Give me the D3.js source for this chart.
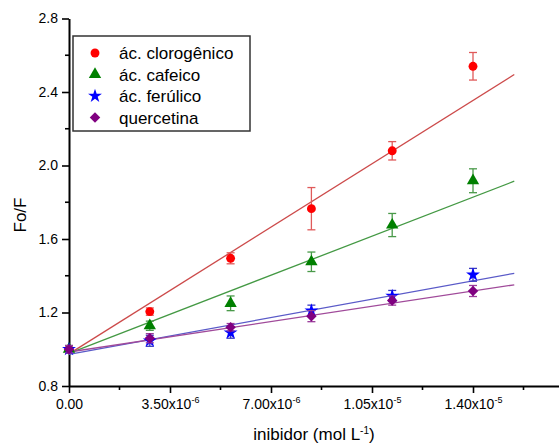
<!DOCTYPE html>
<html lang="pt">
<head>
<meta charset="utf-8">
<style>
  body { margin: 0; background: white; }
  svg { font-family: Arial, "Liberation Sans", sans-serif; background: white; }
  .axis path, .axis line { stroke: black; }
  .axis path { stroke-width: 2px; }
  .axis line { stroke-width: 1.6px; }
  .axis text { fill: black; font-size: 14px; }
  .fit { fill: none; stroke-width: 1.3px; }
</style>
</head>
<body>
<svg width="559" height="444"></svg>
<script src="https://d3js.org/d3.v7.min.js"></script>
<script>
// concentrations of inhibitor (mol L-1)
const conc = [0, 2.8e-6, 5.6e-6, 8.4e-6, 1.12e-5, 1.4e-5]

const clorogenico = [1.00, 1.205, 1.495, 1.765, 2.08, 2.54]
const clorogenicoErr = [0.02, 0.02, 0.03, 0.115, 0.05, 0.075]
const cafeico = [1.00, 1.128, 1.25, 1.476, 1.676, 1.917]
const cafeicoErr = [0.02, 0.025, 0.04, 0.053, 0.063, 0.065]
const ferulico = [1.00, 1.046, 1.09, 1.21, 1.29, 1.405]
const ferulicoErr = [0.02, 0.03, 0.03, 0.03, 0.03, 0.035]
const quercetina = [1.00, 1.06, 1.12, 1.18, 1.265, 1.317]
const quercetinaErr = [0.02, 0.025, 0.02, 0.03, 0.025, 0.03]

// linear fits: [intercept, slope]
const fitClorogenico = [0.975, 98500]
const fitCafeico = [0.978, 60700]
const fitFerulico = [0.972, 28600]
const fitQuercetina = [0.985, 23700]
const fitRange = [0, 1.543e-5]

const names = ["ác. clorogênico", "ác. cafeico", "ác. ferúlico", "quercetina"]

const xMajor = [0, 3.5e-6, 7e-6, 1.05e-5, 1.4e-5]
const xLabels = [["0.00", ""], ["3.50x10", "-6"], ["7.00x10", "-6"], ["1.05x10", "-5"], ["1.40x10", "-5"]]
const xMinor = [1.75e-6, 5.25e-6, 8.75e-6, 1.225e-5, 1.575e-5]
const yMajor = [0.8, 1.2, 1.6, 2.0, 2.4, 2.8]
const yMinor = [1.0, 1.4, 1.8, 2.2, 2.6]

const series = [
  { name: names[0], y: clorogenico, err: clorogenicoErr, fit: fitClorogenico, sym: d3.symbolCircle, size: 62, color: "#ff0000", errColor: "#e05a5a", lineColor: "#cc4a4a" },
  { name: names[1], y: cafeico, err: cafeicoErr, fit: fitCafeico, sym: d3.symbolTriangle, size: 66, color: "#008000", errColor: "#4a9a4a", lineColor: "#449944" },
  { name: names[2], y: ferulico, err: ferulicoErr, fit: fitFerulico, sym: d3.symbolStar, size: 60, color: "#0000ff", errColor: "#3a3ac0", lineColor: "#5a5ac8" },
  { name: names[3], y: quercetina, err: quercetinaErr, fit: fitQuercetina, sym: d3.symbolDiamond2, size: 70, color: "#800080", errColor: "#9a3a9a", lineColor: "#a04a9a" }
]

const svg = d3.select("svg")
const x = d3.scaleLinear().domain([0, 1.7e-5]).range([69, 69 + 1.7 / 0.35 * 101])
const y = d3.scaleLinear().domain([0.8, 2.8]).range([386, 18.5])

// axes
const xAxis = svg.append("g").attr("class", "axis")
  .attr("transform", "translate(0,386)")
  .call(d3.axisBottom(x).tickValues(xMajor).tickSize(7).tickSizeOuter(0).tickPadding(6).tickFormat(""))
xAxis.selectAll(".tick text").each(function (d, i) {
  const t = d3.select(this)
  t.text(xLabels[i][0])
  if (xLabels[i][1]) {
    t.append("tspan").attr("dy", -6).style("font-size", "9px").text(xLabels[i][1])
  }
})
xAxis.append("g").selectAll("line").data(xMinor).join("line")
  .attr("x1", d => x(d)).attr("x2", d => x(d)).attr("y1", 0).attr("y2", 4)

const yAxis = svg.append("g").attr("class", "axis")
  .attr("transform", "translate(69,0)")
  .call(d3.axisLeft(y).tickValues(yMajor).tickSize(7).tickSizeOuter(0).tickPadding(4).tickFormat(d3.format(".1f")))
yAxis.append("g").selectAll("line").data(yMinor).join("line")
  .attr("y1", d => y(d)).attr("y2", d => y(d)).attr("x1", 0).attr("x2", -4)

svg.append("text").attr("x", 314).attr("y", 440).attr("text-anchor", "middle")
  .style("font-size", "17px")
  .text("inibidor (mol L")
  .call(t => {
    t.append("tspan").attr("dy", -6).style("font-size", "10px").text("-1")
    t.append("tspan").attr("dy", 6).text(")")
  })

svg.append("text").attr("transform", "translate(26,215) rotate(-90)").attr("text-anchor", "middle")
  .style("font-size", "17px").text("Fo/F")

// fit lines
series.forEach(s => {
  svg.append("line").attr("class", "fit")
    .attr("x1", x(fitRange[0])).attr("y1", y(s.fit[0] + s.fit[1] * fitRange[0]))
    .attr("x2", x(fitRange[1])).attr("y2", y(s.fit[0] + s.fit[1] * fitRange[1]))
    .attr("stroke", s.lineColor)
})

// error bars and markers
series.forEach(s => {
  const g = svg.append("g")
  const pts = conc.map((c, i) => ({ x: c, y: s.y[i], e: s.err[i] }))
  const eb = g.selectAll("g.err").data(pts).join("g").attr("class", "err")
    .attr("stroke", s.errColor).attr("stroke-width", 1.3)
  eb.append("line").attr("x1", d => x(d.x)).attr("x2", d => x(d.x))
    .attr("y1", d => y(d.y - d.e)).attr("y2", d => y(d.y + d.e))
  eb.append("line").attr("x1", d => x(d.x) - 4).attr("x2", d => x(d.x) + 4)
    .attr("y1", d => y(d.y - d.e)).attr("y2", d => y(d.y - d.e))
  eb.append("line").attr("x1", d => x(d.x) - 4).attr("x2", d => x(d.x) + 4)
    .attr("y1", d => y(d.y + d.e)).attr("y2", d => y(d.y + d.e))
  g.selectAll("path").data(pts).join("path")
    .attr("d", d3.symbol().type(s.sym).size(s.size))
    .attr("transform", d => `translate(${x(d.x)},${y(d.y)})`)
    .attr("fill", s.color)
})

// legend
const legend = svg.append("g")
legend.append("rect").attr("x", 73).attr("y", 36).attr("width", 177).attr("height", 95)
  .attr("fill", "white").attr("stroke", "#333").attr("stroke-width", 1.5)
series.forEach((s, i) => {
  const ly = 53 + i * 21.5
  legend.append("path").attr("d", d3.symbol().type(s.sym).size(s.size))
    .attr("transform", `translate(95,${ly})`).attr("fill", s.color)
  legend.append("text").attr("x", 119).attr("y", ly + 6)
    .style("font-size", "17px").text(s.name)
})
</script>
</body>
</html>
